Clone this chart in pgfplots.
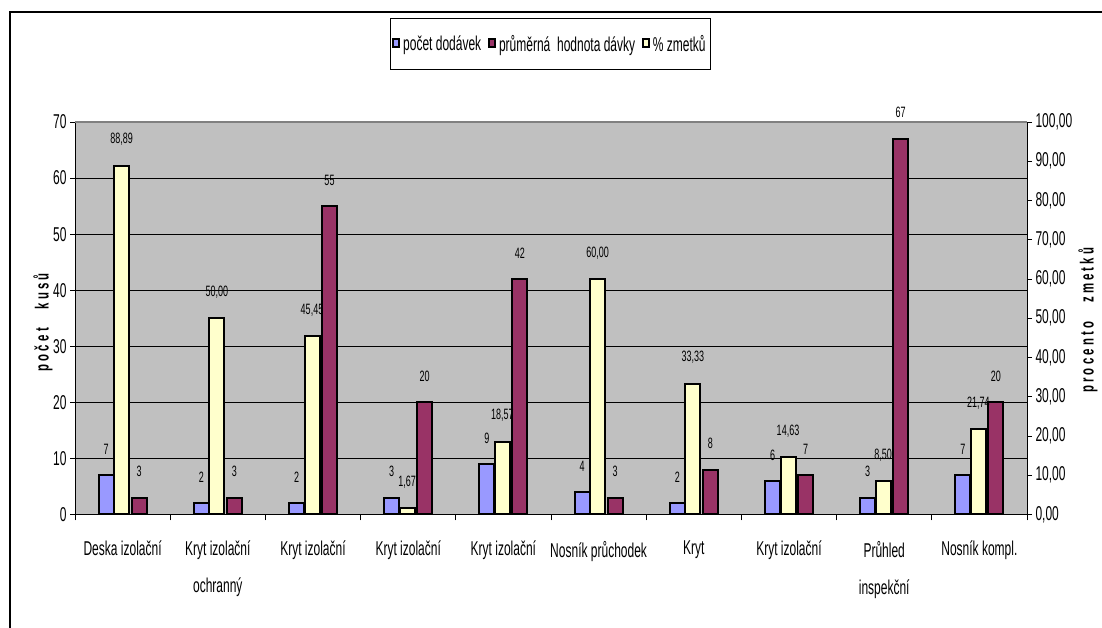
\documentclass[border=0pt]{standalone}
\usepackage{fontspec}
\setmainfont{Liberation Sans}[FakeStretch=0.6]
\usepackage{pgfplots}
\pgfplotsset{compat=1.18}

\definecolor{dodavky}{HTML}{9999FF}
\definecolor{davka}{HTML}{993366}
\definecolor{zmetky}{HTML}{FFFFCC}
\definecolor{plocha}{HTML}{C0C0C0}
\definecolor{okraj}{HTML}{808080}

\newcommand\ftick{\fontsize{20}{24}\selectfont}
\newcommand\flab{\fontsize{15}{18}\selectfont}
\newcommand\ftitle{\bfseries\fontsize{19}{22}\selectfont}

% počet dodávek / průměrná hodnota dávky / % zmetků
\pgfplotstableread{
idx dod davka zmet
0   7   3    88.89
1   2   3    50.00
2   2   55   45.45
3   3   20   1.67
4   9   42   18.57
5   4   3    60.00
6   2   8    33.33
7   6   7    14.63
8   3   67   8.50
9   7   20   21.74
}\data

\pgfplotsset{
  spolecne/.style={
    scale only axis, width=952pt, height=392.5pt,
    at={(75pt,113.5pt)}, anchor=south west,
    xmin=-0.5, xmax=9.5, ymin=0, clip=false,
    ybar, bar width=15pt,
    tick align=outside,
    major tick length=5pt,
    tick style={black, line width=0.8pt},
    axis line style={black, line width=1pt},
    every tick label/.append style={font=\ftick},
    nodes near coords,
    every node near coord/.append style={font=\flab, anchor=center, yshift=26pt},
    legend image code/.code={\draw[#1, draw=black, line width=1.8pt] (0pt,-3.5pt) rectangle (6pt,5pt);},
  },
  sloupec/.style={draw=black, line width=2pt},
}

\begin{document}
\begin{tikzpicture}
\useasboundingbox (0,0) rectangle (1102pt,628pt);
\draw[black, line width=1.5pt] (10pt,0) -- (10pt,616pt) -- (1102pt,616pt);

% left axis: counts
\begin{axis}[spolecne,
  ymax=70, ytick={0,10,...,70},
  axis x line*=bottom, axis y line*=left,
  axis background/.style={fill=plocha},
  ymajorgrids, major grid style={black, line width=0.8pt},
  xtick={0,...,9},
  xticklabels={Deska izolační, {Kryt izolační\\ochranný}, Kryt izolační, Kryt izolační, Kryt izolační, Nosník průchodek, Kryt, Kryt izolační, {Průhled\\inspekční}, Nosník kompl.},
  major x tick style={draw=none},
  minor xtick={-0.5,0.5,...,9.5},
  minor tick length=6pt,
  xticklabel style={align=center, font=\fontsize{20}{37}\selectfont, anchor=north, yshift=-18pt},
  /pgf/number format/assume math mode=true,
  ylabel={p o č e t\quad k u s ů},
  ylabel style={at={(axis description cs:-0.0336,0.49)}, anchor=center, font=\ftitle},
]
\addplot[sloupec, fill=dodavky, bar shift=-16.5pt] table[x=idx, y=dod] {\data};
\addplot[sloupec, fill=davka, bar shift=16.5pt] table[x=idx, y=davka] {\data};
\draw[okraj, line width=2pt] (rel axis cs:0,1) -- (rel axis cs:1,1);
\end{axis}

% right axis: percentage of rejects
\begin{axis}[spolecne,
  ymax=100, ytick={0,10,...,100},
  axis x line=none, axis y line*=right,
  xtick=\empty,
  ylabel={p r o c e n t o\quad z m e t k ů},
  ylabel style={at={(axis description cs:1.064,0.495)}, anchor=center, font=\ftitle},
  legend columns=3,
  legend style={at={(0.4995,1.199)}, anchor=center, draw=black, line width=1pt,
    font=\ftick, inner xsep=2pt, inner ysep=15pt,
    nodes={inner xsep=3pt},
    /tikz/every even column/.append style={column sep=4pt}},
  /pgf/number format/.cd, fixed, fixed zerofill, precision=2, use comma, assume math mode=true,
]
\addlegendimage{sloupec, fill=dodavky}
\addlegendentry{počet dodávek}
\addlegendimage{sloupec, fill=davka}
\addlegendentry{průměrná~ hodnota dávky}
\addplot[sloupec, fill=zmetky, bar shift=-1pt] table[x=idx, y=zmet] {\data};
\addlegendentry{\% zmetků}
\end{axis}
\end{tikzpicture}
\end{document}
